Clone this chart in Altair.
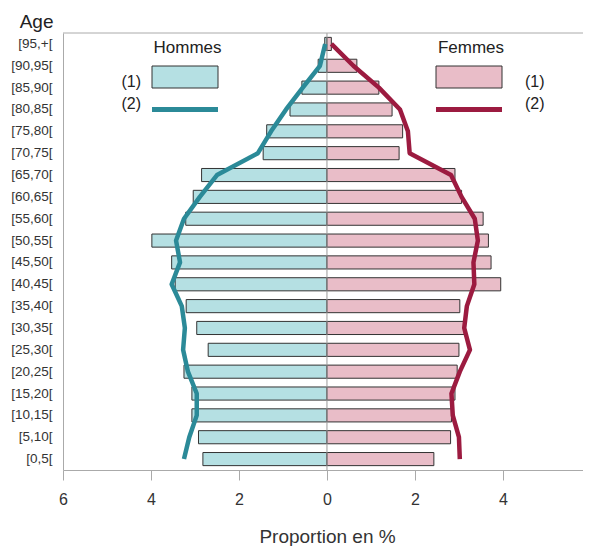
import altair as alt
import pandas as pd

# Age classes from bottom to top
ages = ["[0,5[", "[5,10[", "[10,15[", "[15,20[", "[20,25[", "[25,30[", "[30,35[",
        "[35,40[", "[40,45[", "[45,50[", "[50,55[", "[55,60[", "[60,65[", "[65,70[",
        "[70,75[", "[75,80[", "[80,85[", "[85,90[", "[90,95[", "[95,+["]

# (1) bars, proportions in %
men_bars = [2.82, 2.92, 3.07, 3.07, 3.25, 2.70, 2.96, 3.20, 3.45, 3.53,
            3.98, 3.21, 3.04, 2.85, 1.45, 1.37, 0.84, 0.57, 0.20, 0.05]
women_bars = [2.43, 2.81, 2.83, 2.91, 2.96, 3.00, 3.12, 3.02, 3.95, 3.73,
              3.67, 3.55, 3.06, 2.91, 1.64, 1.72, 1.48, 1.18, 0.68, 0.10]

# (2) lines, proportions in %
men_line = [3.25, 3.13, 2.96, 2.96, 3.16, 3.27, 3.23, 3.30, 3.53, 3.34,
            3.43, 3.25, 2.89, 2.50, 1.57, 1.27, 0.93, 0.55, 0.16, 0.04]
women_line = [3.02, 3.00, 2.86, 2.83, 3.02, 3.25, 3.12, 3.18, 3.35, 3.33,
              3.43, 3.36, 3.06, 2.82, 1.88, 1.84, 1.66, 1.18, 0.60, 0.10]

x_ticks = [-6, -4, -2, 0, 2, 4]
x_domain = [-6, 5.82]   # right edge of the frame is cut at the picture's border

MEN_FILL, WOMEN_FILL = "#b5e0e3", "#e9bdc8"
MEN_LINE, WOMEN_LINE = "#2b8a98", "#9c1b40"
FRAME = "#aaaaaa"
FONT = "Liberation Sans"

age_sort = list(reversed(ages))

bar_rows = []
line_rows = []
for i, a in enumerate(ages):
    bar_rows.append({"age": a, "sex": "Hommes", "x": -men_bars[i], "x2": 0})
    bar_rows.append({"age": a, "sex": "Femmes", "x": 0, "x2": women_bars[i]})
    line_rows.append({"age": a, "sex": "Hommes", "x": -men_line[i], "idx": i})
    line_rows.append({"age": a, "sex": "Femmes", "x": women_line[i], "idx": i})
bar_df = pd.DataFrame(bar_rows)
line_df = pd.DataFrame(line_rows)

xscale = alt.Scale(domain=x_domain, nice=False, zero=False)
xaxis = alt.Axis(values=x_ticks, labelExpr="abs(datum.value)", grid=False,
                 tickSize=10, tickColor=FRAME, domainColor=FRAME,
                 labelFontSize=16, labelPadding=11, labelColor="#333333",
                 labelFlush=False, labelFont=FONT,
                 title="Proportion en %", titleFontSize=19, titleFontWeight="normal",
                 titleColor="#333333", titleFont=FONT, titleBaseline="alphabetic",
                 titleX=327 - 63, titleAnchor="middle", titleY=72)
yscale = alt.Scale(paddingInner=0.4, paddingOuter=0.2)
yaxis = alt.Axis(ticks=False, domain=True, domainColor=FRAME, labelFontSize=13.5,
                 labelPadding=11, labelColor="#333333", labelFont=FONT,
                 title="Age", titleAngle=0, titleAlign="right", titleX=-10,
                 titleY=-6, titleBaseline="alphabetic", titleFontSize=19,
                 titleFontWeight="normal", titleColor="#222222", titleFont=FONT)

bars = alt.Chart(bar_df).mark_bar(stroke="#333333", strokeWidth=1).encode(
    x=alt.X("x:Q", scale=xscale, axis=xaxis),
    x2="x2:Q",
    y=alt.Y("age:N", sort=age_sort, scale=yscale, axis=yaxis),
    fill=alt.Fill("sex:N", scale=alt.Scale(domain=["Hommes", "Femmes"],
                                           range=[MEN_FILL, WOMEN_FILL]), legend=None),
)

center = alt.Chart(pd.DataFrame({"x": [0]})).mark_rule(color="#9a9a9a", strokeWidth=1).encode(
    x=alt.X("x:Q", scale=xscale, axis=xaxis)
)

lines = alt.Chart(line_df).mark_line(strokeWidth=4.5, strokeJoin="round").encode(
    x=alt.X("x:Q", scale=xscale, axis=xaxis),
    y=alt.Y("age:N", sort=age_sort, scale=yscale, axis=yaxis),
    stroke=alt.Stroke("sex:N", scale=alt.Scale(domain=["Hommes", "Femmes"],
                                               range=[MEN_LINE, WOMEN_LINE]), legend=None),
    detail="sex:N",
    order="idx:Q",
)

one = pd.DataFrame({"a": [0]})

top_frame = alt.Chart(one).mark_rule(color=FRAME, strokeWidth=1).encode(
    x=alt.value(0), x2=alt.value(520), y=alt.value(0))


def txt(s, x, y, align, size):
    return alt.Chart(one).mark_text(text=s, align=align, baseline="middle", fontSize=size,
                                    font=FONT, color="#222222").encode(
        x=alt.value(x), y=alt.value(y))


def box(x1, x2, fill):
    return alt.Chart(one).mark_rect(fill=fill, stroke="#333333", strokeWidth=1).encode(
        x=alt.value(x1), x2=alt.value(x2), y=alt.value(33), y2=alt.value(55))


def seg(x1, x2, col):
    return alt.Chart(one).mark_rule(color=col, strokeWidth=5).encode(
        x=alt.value(x1), x2=alt.value(x2), y=alt.value(76.5))


legend = [
    txt("Hommes", 124.5, 15, "center", 17),
    txt("(1)", 78, 49, "right", 16),
    txt("(2)", 78, 71, "right", 16),
    box(89, 155, MEN_FILL),
    seg(89, 155, MEN_LINE),
    txt("Femmes", 408, 15, "center", 17),
    txt("(1)", 462, 49, "left", 16),
    txt("(2)", 462, 71, "left", 16),
    box(373, 439, WOMEN_FILL),
    seg(373, 439, WOMEN_LINE),
]

chart = alt.layer(bars, center, lines, top_frame, *legend).properties(
    width=520, height=437,
    autosize=alt.AutoSizeParams(type="none"),
    padding={"left": 55, "top": 25, "right": 0, "bottom": 76},
).configure_view(strokeWidth=0)

chart.save("out.html", embed_options={"renderer": "svg", "actions": False})
